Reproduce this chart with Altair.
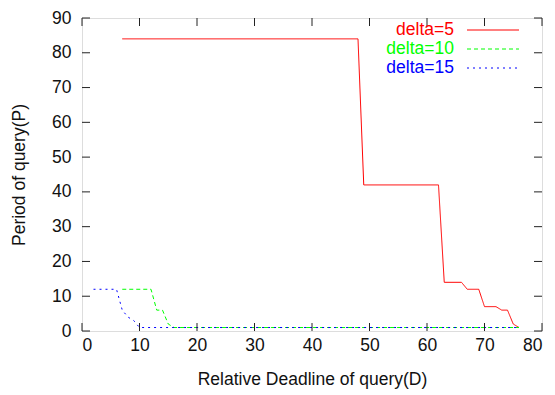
import altair as alt
import pandas as pd

# ---- data ----
red_D = [7, 48, 49, 62, 63, 66, 67, 69, 70, 72, 73, 74, 75, 76]
red_P = [84, 84, 42, 42, 14, 14, 12, 12, 7, 7, 6, 6, 2, 1]

green_D = [7, 12, 13, 14, 15, 16, 76]
green_P = [12, 12, 6, 6, 2, 1, 1]

blue_D = [2, 6, 7, 8, 9, 10, 76]
blue_P = [12, 12, 6, 4, 3, 1, 1]

series_names = ["delta=5", "delta=10", "delta=15"]
series_colors = ["#ff0000", "#00ff00", "#0000ff"]
series_dash = [[1, 0], [4, 3], [2, 4]]
legend_rows = [12, 31, 50]

x_ticks = [0, 10, 20, 30, 40, 50, 60, 70, 80]
y_ticks = [0, 10, 20, 30, 40, 50, 60, 70, 80, 90]

W, H = 460, 313
FONT = "Liberation Sans"
FS = 17.5
TICK = 8
X_TITLE = "Relative Deadline of query(D)"
Y_TITLE = "Period of query(P)"

xs = alt.Scale(domain=[0, 80], nice=False, zero=False)
ys = alt.Scale(domain=[0, 90], nice=False, zero=False)

x_axis = alt.Axis(values=x_ticks, tickSize=0, grid=False, domain=False,
                  labelFontSize=FS, labelFont=FONT, labelColor="#111",
                  labelPadding=5, titleFontSize=FS, titleFont=FONT,
                  titleFontWeight="normal", titleColor="#111", titlePadding=17)
y_axis = alt.Axis(values=y_ticks, tickSize=0, grid=False, domain=False,
                  labelFontSize=FS, labelFont=FONT, labelColor="#111",
                  labelPadding=11, titleFontSize=FS, titleFont=FONT,
                  titleFontWeight="normal", titleColor="#111", titlePadding=23)


def X(field):
    return alt.X(field, scale=xs, axis=x_axis, title=X_TITLE)


def Y(field):
    return alt.Y(field, scale=ys, axis=y_axis, title=Y_TITLE)


layers = []
datasets = [(red_D, red_P), (green_D, green_P), (blue_D, blue_P)]
for i, (d, p) in enumerate(datasets):
    df = pd.DataFrame({"D": d, "P": p})
    layers.append(
        alt.Chart(df).mark_line(color=series_colors[i], strokeWidth=1,
                                strokeDash=series_dash[i])
        .encode(x=X("D:Q"), y=Y("P:Q"))
    )

# inward ticks on all four sides (gnuplot style)
xt = pd.DataFrame({"v": x_ticks})
yt = pd.DataFrame({"v": y_ticks})
tick_style = dict(color="#222", strokeWidth=1)
layers.append(alt.Chart(xt).mark_rule(**tick_style).encode(
    x=X("v:Q"), y=alt.value(H), y2=alt.value(H - TICK)))
layers.append(alt.Chart(xt).mark_rule(**tick_style).encode(
    x=X("v:Q"), y=alt.value(0), y2=alt.value(TICK)))
layers.append(alt.Chart(yt).mark_rule(**tick_style).encode(
    y=Y("v:Q"), x=alt.value(0), x2=alt.value(TICK)))
layers.append(alt.Chart(yt).mark_rule(**tick_style).encode(
    y=Y("v:Q"), x=alt.value(W), x2=alt.value(W - TICK)))

# legend (label left, sample right, as in gnuplot)
for i, name in enumerate(series_names):
    ly = legend_rows[i]
    ldf = pd.DataFrame({"label": [name]})
    layers.append(alt.Chart(ldf).mark_text(
        align="right", baseline="middle", fontSize=FS, font=FONT,
        color=series_colors[i]).encode(
        text="label:N", x=alt.value(372), y=alt.value(ly)))
    layers.append(alt.Chart(ldf).mark_rule(
        color=series_colors[i], strokeWidth=1, strokeDash=series_dash[i]).encode(
        x=alt.value(385), x2=alt.value(437), y=alt.value(ly)))

chart = alt.layer(*layers).properties(
    width=W, height=H,
    autosize=alt.AutoSizeParams(type="none"),
    padding={"left": 74, "top": 10, "right": 5, "bottom": 70},
).configure_view(stroke="#111", strokeWidth=1).configure(background="white")

chart.save("out.html", embed_options={"renderer": "svg", "actions": False})
